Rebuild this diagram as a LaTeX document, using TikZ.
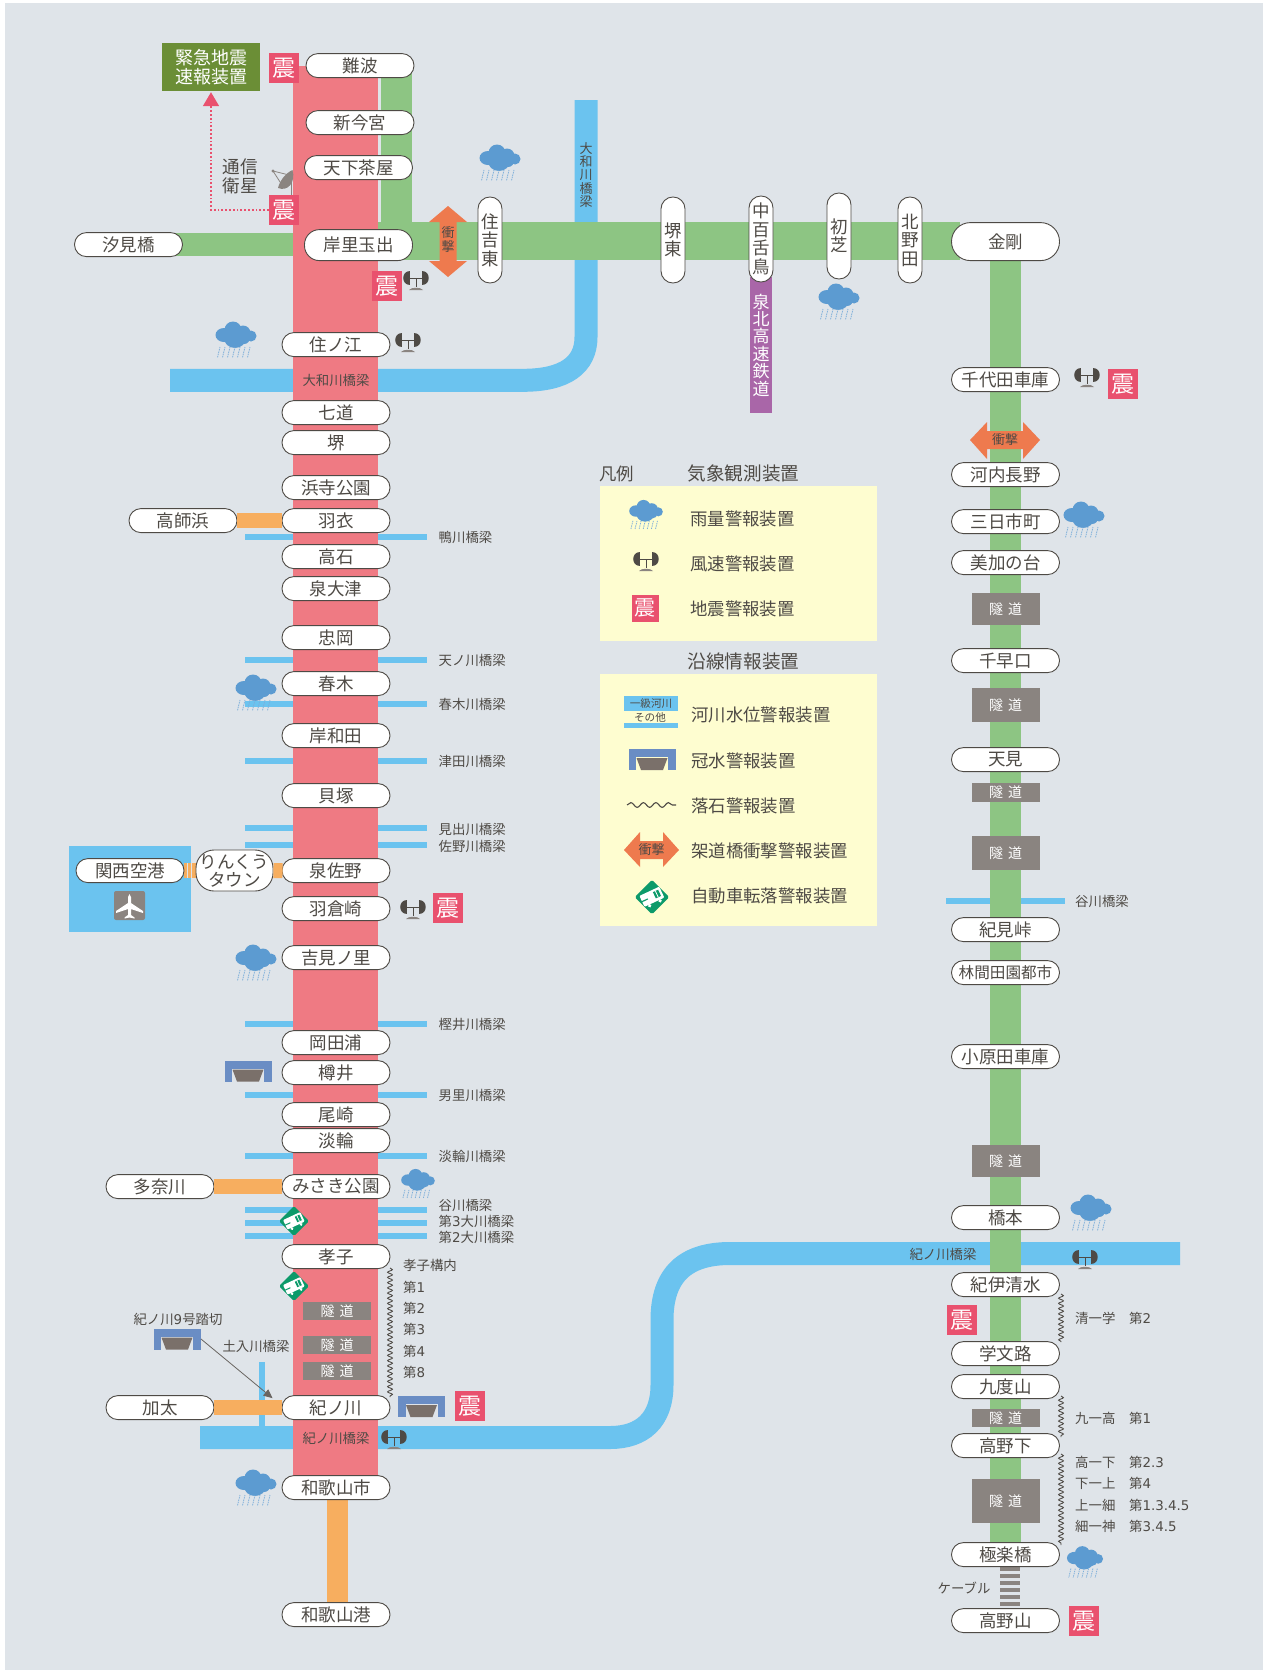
\documentclass[tikz,border=0pt]{standalone}
\usepackage{fontspec}
\setmainfont{Noto Sans CJK JP}
\newfontfamily\latn{DejaVu Sans}
\usetikzlibrary{arrows.meta,decorations.pathmorphing,shapes.geometric}
\definecolor{bgc}{HTML}{DFE4E9}
\definecolor{redl}{HTML}{EF7A83}
\definecolor{greenl}{HTML}{8DC583}
\definecolor{bluel}{HTML}{6BC3EF}
\definecolor{orangel}{HTML}{F7AE5F}
\definecolor{ink}{HTML}{4E4A45}
\definecolor{pinkc}{HTML}{E9516E}
\definecolor{cloudc}{HTML}{5C9BD1}
\definecolor{grayc}{HTML}{8A8480}
\definecolor{shockc}{HTML}{EE7A4E}
\definecolor{yell}{HTML}{FEFDD0}
\definecolor{floodc}{HTML}{6A8DC4}
\definecolor{floodin}{HTML}{7A706A}
\definecolor{fallc}{HTML}{0C9A6A}
\definecolor{purplel}{HTML}{A966A8}
\definecolor{emgc}{HTML}{6B8E36}
\newcommand{\fs}[1]{\fontsize{#1}{#1}\selectfont}
\newcommand{\nb}[1]{{\latn #1}}
\tikzset{
  x=1pt,y=-1pt,
  station/.style={draw=ink,fill=white,line width=0.9pt,rounded corners=11.9pt,minimum width=108pt,minimum height=24pt,inner sep=0pt,text=ink,font=\fs{17.5},yshift=-0.6pt},
  vstation/.style={draw=ink,fill=white,line width=0.9pt,rounded corners=11.9pt,minimum width=24pt,minimum height=86pt,inner sep=0pt,text=ink,align=center,font=\fontsize{17.5}{18.5}\selectfont},
  tunnelbox/.style={fill=grayc,minimum width=68pt,minimum height=18pt,inner sep=0pt,text=white,font=\fs{14}},
  smalllabel/.style={anchor=west,inner sep=0pt,text=ink,font=\fs{13.4},yshift=-0.8pt},
  leglabel/.style={anchor=west,inner sep=0pt,text=ink,font=\fs{17.4},yshift=-0.8pt},
  orangeline/.style={draw=orangel,line width=15pt},
  wavy/.style={draw=ink,line width=0.9pt,decorate,decoration={snake,segment length=5.2pt,amplitude=2.4pt}},
  rainicon/.pic={
    \fill[cloudc] (-12,0) circle[x radius=8.5,y radius=7];
    \fill[cloudc] (-3,-5) circle[radius=8.5];
    \fill[cloudc] (7,-2) circle[radius=7.5];
    \fill[cloudc] (15,1) circle[radius=5.5];
    \fill[cloudc] (-1,3) circle[x radius=11,y radius=10];
    \fill[cloudc] (8,3) circle[radius=6];
    \foreach \q in {-18,-13,-8,-3,2,7,12}
      \draw[cloudc!80!white,line width=0.8pt,dash pattern=on 1.4pt off 0.9pt] (\q+2,12) -- (\q-0.5,22.5);
  },
  windicon/.pic={
    \fill[ink] (-6,-9) .. controls (-15,-9) and (-15,5) .. (-6,5) -- cycle;
    \fill[ink] (6,-9) .. controls (15,-9) and (15,5) .. (6,5) -- cycle;
    \draw[ink,line width=1pt] (-6,-2) -- (6,-2);
    \draw[ink,line width=1pt] (0,-2) -- (0,7);
    \fill[grayc] (-7,10) .. controls (-5,7) and (5,7) .. (7,10) -- cycle;
  },
  shinicon/.pic={
    \node (-box) [fill=pinkc,minimum size=30pt,inner sep=0pt,text=white,font=\fs{23}] {震};
  },
  shinsmall/.pic={
    \node (-box) [fill=pinkc,minimum size=27pt,inner sep=0pt,text=white,font=\fs{21}] {震};
  },
  floodicon/.pic={
    \fill[floodc] (-23.5,-10.5) rectangle (23.5,-2.5);
    \fill[floodc] (-23.5,-2.5) rectangle (-16,10.5);
    \fill[floodc] (16,-2.5) rectangle (23.5,10.5);
    \fill[floodin] (-15.5,-1.5) -- (15.5,-1.5) -- (11,10.5) -- (-11,10.5) -- cycle;
  },
  fallicon/.pic={
    \fill[fallc,rounded corners=1.5pt] (-15,0) -- (0,-15) -- (15,0) -- (0,15) -- cycle;
    \begin{scope}[rotate=25]
      \fill[white,rounded corners=1pt] (-9.5,-5.5) rectangle (9.5,5);
      \fill[white] (-5,6) circle[radius=1.6];
      \fill[white] (5,6) circle[radius=1.6];
      \fill[fallc] (2.5,-3.5) rectangle (7.5,2.5);
      \fill[white] (4.5,-3.5) rectangle (5.2,2.5);
      \fill[fallc] (-9.8,-0.5) rectangle (-4,0.5);
    \end{scope}
  },
}
\begin{document}
\begin{tikzpicture}
\useasboundingbox (0,0) rectangle (1263,1670);
\fill[white] (0,0) rectangle (1263,1670);
\fill[bgc] (5,3) rectangle (1263,1670);

% rivers
\draw[bluel,line width=23pt] (170,380.3) -- (523,380.3) .. controls (565,380.3) and (586,365) .. (586,337) -- (586,100);
\draw[bluel,line width=23pt] (200,1437.5) -- (610,1437.5) .. controls (642,1437.5) and (662,1420) .. (662,1385) -- (662,1320) .. controls (662,1275) and (685,1253.5) .. (730,1253.5) -- (1180,1253.5);
\fill[bluel] (259,1362) rectangle (265,1426);
% bridges
\foreach \q in {537,660,704,761,828,845,1024,1095,1156,1210,1223,1236}{
  \fill[bluel] (245,\q-3) rectangle (427,\q+3);
}
\fill[bluel] (946,898) rectangle (1065,904);
% airport
\fill[bluel] (69,846) rectangle (191,932);

% main lines
\fill[redl] (293,66) rectangle (378,1490);
\fill[greenl] (381,66) rectangle (412,230);
\fill[greenl] (378,222) rectangle (960,260);
\fill[greenl] (170,233) rectangle (293,256);
\fill[greenl] (990,240) rectangle (1021,1554);
\fill[purplel] (750,277) rectangle (772,413);
\fill[orangel] (327,1487) rectangle (348,1614);
\fill[orangel] (184,863) rectangle (196,878);
\foreach \q in {187,191}{\fill[bgc] (\q,863) rectangle (\q+1,878);}

% right-hand tunnels
\node (t1) [tunnelbox,minimum height=32pt] at (1005.5,609) {隧\hspace{5pt}道};
\node (t2) [tunnelbox,minimum height=34pt] at (1005.5,705) {隧\hspace{5pt}道};
\node (t3) [tunnelbox,minimum height=19pt] at (1005.5,792) {隧\hspace{5pt}道};
\node (t4) [tunnelbox,minimum height=34pt] at (1005.5,853) {隧\hspace{5pt}道};
\node (t5) [tunnelbox,minimum height=32pt] at (1005.5,1161) {隧\hspace{5pt}道};
\node (t6) [tunnelbox] at (1005.5,1418) {隧\hspace{5pt}道};
\node (t7) [tunnelbox,minimum height=44pt] at (1005.5,1501) {隧\hspace{5pt}道};
% left tunnels
\node (t8) [tunnelbox] at (337,1311) {隧\hspace{5pt}道};
\node (t9) [tunnelbox] at (337,1345) {隧\hspace{5pt}道};
\node (t10) [tunnelbox] at (337,1371) {隧\hspace{5pt}道};

% cable
\foreach \q in {1567,1574,1581,1588,1595,1602}{\fill[grayc] (1000,\q) rectangle (1020,\q+3.5);}

% stations: Nankai main
\node (nanba) [station] at (360,65) {難波};
\node (imamiya) [station] at (360,122) {新今宮};
\node (tenga) [station] at (358.5,167) {天下茶屋};
\node (kishi) [station,minimum height=31pt,rounded corners=15pt] at (358.5,244.5) {岸里玉出};
\node (shiomi) [station] at (128.5,244) {汐見橋};
\node (suminoe) [station] at (336,344) {住ノ江};
\node (shichido) [station] at (336,412) {七道};
\node (sakai) [station] at (336,442) {堺};
\node (hamadera) [station] at (336,487) {浜寺公園};
\node (hagoromo) [station] at (336,520) {羽衣};
\node (takaishi) [station] at (336,556) {高石};
\node (izumiotsu) [station] at (336,588) {泉大津};
\node (tadaoka) [station] at (336,637) {忠岡};
\node (haruki) [station] at (336,683) {春木};
\node (kishiwada) [station] at (336,735) {岸和田};
\node (kaizuka) [station] at (336,795) {貝塚};
\node (izumisano) [station] at (336,870) {泉佐野};
\node (hagurazaki) [station] at (336,908) {羽倉崎};
\node (yoshimi) [station] at (336,957) {吉見ノ里};
\node (okadaura) [station] at (336,1042) {岡田浦};
\node (tarui) [station] at (336,1072) {樽井};
\node (ozaki) [station] at (336,1114) {尾崎};
\node (tannowa) [station] at (336,1140) {淡輪};
\node (misaki) [station] at (336,1186) {みさき公園};
\node (kyoshi) [station] at (336,1256) {孝子};
\node (kinokawa) [station] at (336,1407) {紀ノ川};
\node (wakayamashi) [station] at (336,1487) {和歌山市};
\node (wakayamako) [station] at (336,1614) {和歌山港};
\node (takashinohama) [station] at (183,520) {高師浜};
\node (tanagawa) [station] at (160,1186) {多奈川};
\node (kada) [station] at (160,1407) {加太};
\node (kanku) [station] at (130,870) {関西空港};
\node (rinku) [draw=ink,fill=white,line width=0.9pt,rounded corners=18pt,minimum width=77pt,minimum height=41pt,inner sep=0pt,text=ink,align=center,font=\fontsize{17.5}{18}\selectfont] at (234.5,870.5) {りんくう\\タウン};
% branch lines
\draw[orangeline,shorten >=-1pt] (rinku.east) -- (izumisano.west);
\draw[orangeline] (tanagawa.east) -- (misaki.west);
\draw[orangeline] (kada.east) -- (kinokawa.west);
\draw[orangeline] (takashinohama.east) -- (hagoromo.west);

% Koya line stations
\node (sumiyoshi) [vstation] at (490,240) {住\\吉\\東};
\node (sakaihigashi) [vstation] at (673,240) {堺\\東};
\node (nakamozu) [vstation] at (761,239) {中\\百\\舌\\鳥};
\node (hatsushiba) [vstation] at (839,236) {初\\芝};
\node (kitanoda) [vstation] at (910,240) {北\\野\\田};
\node (kongo) [station,minimum height=38pt,rounded corners=18.9pt] at (1005.5,241) {金剛};
\node (chiyoda) [station] at (1005.5,379) {千代田車庫};
\node (kawachi) [station] at (1005.5,474) {河内長野};
\node (mikkaichi) [station] at (1005.5,521) {三日市町};
\node (mikanodai) [station] at (1005.5,562) {美加の台};
\node (chihaya) [station] at (1005.5,660) {千早口};
\node (amami) [station] at (1005.5,759) {天見};
\node (kimitoge) [station] at (1005.5,929) {紀見峠};
\node (rinkan) [station,font=\fs{15.6}] at (1005.5,972) {林間田園都市};
\node (kohara) [station] at (1005.5,1056) {小原田車庫};
\node (hashimoto) [station] at (1005.5,1217) {橋本};
\node (kiishimizu) [station] at (1005.5,1284) {紀伊清水};
\node (kamuro) [station] at (1005.5,1353) {学文路};
\node (kudoyama) [station] at (1005.5,1386) {九度山};
\node (koyashita) [station] at (1005.5,1445) {高野下};
\node (gokuraku) [station] at (1005.5,1554) {極楽橋};
\node (koyasan) [station] at (1005.5,1620) {高野山};

% text on rivers and lines
\node (lb1) [text=ink,font=\fs{13.4},inner sep=0pt,yshift=-0.8pt] at (336,380) {大和川橋梁};
\node (lb2) [text=ink,font=\fs{13.4},inner sep=0pt,yshift=-0.8pt] at (336,1438) {紀ノ川橋梁};
\node (lb3) [text=ink,font=\fs{13.4},inner sep=0pt,yshift=-0.8pt] at (943,1254) {紀ノ川橋梁};
\node (lb4) [text=ink,font=\fontsize{13}{13.2}\selectfont,inner sep=0pt,align=center] at (586,175) {大\\和\\川\\橋\\梁};
\node (lb5) [text=white,font=\fontsize{17}{17.4}\selectfont,inner sep=0pt,align=center] at (761,345) {泉\\北\\高\\速\\鉄\\道};

% bridge labels
\foreach \q/\r in {537/鴨川橋梁,660/天ノ川橋梁,704/春木川橋梁,761/津田川橋梁,829/見出川橋梁,846/佐野川橋梁,1024/樫井川橋梁,1095/男里川橋梁,1156/淡輪川橋梁,1205/谷川橋梁,1221/第\nb{3}大川橋梁,1237/第\nb{2}大川橋梁}{
  \node [smalllabel] at (438.5,\q) {\r};
}
\foreach \q/\r in {1265/孝子構内,1287/第\nb{1},1308/第\nb{2},1329/第\nb{3},1351/第\nb{4},1372/第\nb{8}}{
  \node [smalllabel] at (403,\q) {\r};
}
\node (lb6) [smalllabel] at (1075,901) {谷川橋梁};
\node (lb7) [smalllabel] at (1075,1318) {清一学};
\node (lb8) [smalllabel] at (1129,1318) {第\nb{2}};
\node (lb9) [smalllabel] at (1075,1418) {九一高};
\node (lb10) [smalllabel] at (1129,1418) {第\nb{1}};
\node (lb11) [smalllabel] at (1075,1462) {高一下};
\node (lb12) [smalllabel] at (1129,1462) {第\nb{2.3}};
\node (lb13) [smalllabel] at (1075,1483) {下一上};
\node (lb14) [smalllabel] at (1129,1483) {第\nb{4}};
\node (lb15) [smalllabel] at (1075,1505) {上一細};
\node (lb16) [smalllabel] at (1129,1505) {第\nb{1.3.4.5}};
\node (lb17) [smalllabel] at (1075,1526) {細一神};
\node (lb18) [smalllabel] at (1129,1526) {第\nb{3.4.5}};
\node (lb19) [smalllabel,anchor=center] at (964,1587) {ケーブル};
\node (lb20) [smalllabel,anchor=center] at (178,1319) {紀ノ川\nb{9}号踏切};
\node (lb21) [smalllabel,anchor=center] at (256,1346) {土入川橋梁};

% wavy rockfall lines
\draw[wavy] (390,1268) -- (390,1397);
\draw[wavy] (1061,1294) -- (1061,1342);
\draw[wavy] (1061,1396) -- (1061,1437);
\draw[wavy] (1061,1454) -- (1061,1545);

% emergency box
\node (emgbox) [fill=emgc,minimum width=98pt,minimum height=48pt,inner sep=0pt,text=white,align=center,font=\fontsize{18}{19}\selectfont] at (211,67) {緊急地震\\速報装置};
\pic (s1) at (284,68) {shinicon};
\pic (s2) at (284,210) {shinicon};
\pic (s3) at (387,286) {shinicon};
\pic (s4) at (448,908) {shinicon};
\pic (s5) at (470,1406) {shinicon};
\pic (s6) at (1123,384) {shinicon};
\pic (s7) at (962,1320) {shinicon};
\pic (s8) at (1084,1621) {shinicon};
\draw[pinkc,line width=1.6pt,dash pattern=on 1.8pt off 2pt,-{Triangle[width=16pt,length=14pt,sep=1pt]}] (s2-box.west) -| (emgbox.south);
\node (tsushin) [text=ink,inner sep=0pt,align=center,font=\fontsize{17.6}{19}\selectfont] at (240,176) {通信\\衛星};
% satellite dish
\fill[grayc] (292.5,170) .. controls (296,182) and (288,192) .. (278,188) .. controls (280,180) and (286,173) .. cycle;
\draw[grayc,line width=0.8pt] (273,171) -- (289,175);
\draw[grayc,line width=0.8pt] (273,171) -- (282,185);
\fill[grayc] (273,171) circle[radius=1.7];
\draw[grayc,line width=1pt] (291,182) -- (291,195);

% weather icons
\foreach \q/\r in {500/158,236/335,839/297,1084/515,256/688,256/958,256/1483,1091/1208}{
  \pic at (\q,\r) {rainicon};
}
\pic[scale=0.82] at (418,1180) {rainicon};
\pic[scale=0.88] at (1085,1558) {rainicon};
\foreach \q/\r in {416/280,408/342,413/909,394/1439,1085/1259,1087/377}{
  \pic at (\q,\r) {windicon};
}
\foreach \q/\r in {421.5/1406.5,177/1339,248/1071}{
  \pic at (\q,\r) {floodicon};
}
\pic at (294,1221) {fallicon};
\pic at (294,1286) {fallicon};

% flood arrow
\coordinate (floodpoint) at (201,1339);
\draw[ink!85!white,line width=0.8pt,-{Triangle[width=8pt,length=9pt]}] (floodpoint) -- ([xshift=-9pt,yshift=-3pt]kinokawa.north west);

% shock arrows
\fill[shockc] (448,206) -- (467,222) -- (456.5,222) -- (456.5,261) -- (467,261) -- (448,277) -- (429,261) -- (439.5,261) -- (439.5,222) -- (429,222) -- cycle;
\node (shockv) [text=ink,font=\fontsize{13}{14}\selectfont,inner sep=0pt,align=center] at (448,240) {衝\\撃};
\fill[shockc] (970,440) -- (987,422) -- (987,431) -- (1023,431) -- (1023,422) -- (1040,440) -- (1023,459) -- (1023,449) -- (987,449) -- (987,459) -- cycle;
\node (shockh) [text=ink,font=\fs{13},inner sep=0pt] at (1005,440) {衝撃};

% airport plane
\fill[grayc,rounded corners=2pt] (114,891) rectangle (145,920);
\fill[white] (129.5,894) -- (131,897) -- (131,903) -- (143,911) -- (143,913) -- (131,909) -- (131,915) -- (134.5,917.5) -- (134.5,918.5) -- (129.5,917.5) -- (124.5,918.5) -- (124.5,917.5) -- (128,915) -- (128,909) -- (116,913) -- (116,911) -- (128,903) -- (128,897) -- cycle;

% legend
\node (l1) [leglabel] at (599,473) {凡例};
\node (l2) [leglabel,font=\fs{18.6}] at (687.5,473) {気象観測装置};
\node (l3) [leglabel,font=\fs{18.6}] at (687.5,661) {沿線情報装置};
\fill[yell] (600,486) rectangle (877,641);
\fill[yell] (600,674) rectangle (877,926);
\pic[scale=0.82] at (646,511) {rainicon};
\pic at (646,561) {windicon};
\pic (s9) at (645,608) {shinsmall};
\node (l4) [leglabel] at (690,518) {雨量警報装置};
\node (l5) [leglabel] at (690,563) {風速警報装置};
\node (l6) [leglabel] at (690,608) {地震警報装置};
\node (l7) [leglabel] at (691,714) {河川水位警報装置};
\node (l8) [leglabel] at (691,760) {冠水警報装置};
\node (l9) [leglabel] at (691,805) {落石警報装置};
\node (l10) [leglabel] at (691,850) {架道橋衝撃警報装置};
\node (l11) [leglabel] at (691,895) {自動車転落警報装置};
\fill[bluel] (624,696) rectangle (678,711);
\fill[bluel] (624,723) rectangle (678,728);
\node (l12) [text=ink,font=\fs{10.6},inner sep=0pt] at (651,703.5) {一級河川};
\node (l13) [text=ink,font=\fs{10.6},inner sep=0pt] at (650,717) {その他};
\pic at (652,759.5) {floodicon};
\draw[ink,line width=1.1pt,decorate,decoration={snake,segment length=12.5pt,amplitude=2.4pt}] (627,805) -- (676,805);
\fill[shockc] (624,850) -- (640,832) -- (640,841) -- (663,841) -- (663,832) -- (679,850) -- (663,867) -- (663,859) -- (640,859) -- (640,867) -- cycle;
\node (l14) [text=ink,font=\fs{13},inner sep=0pt] at (651.5,850) {衝撃};
\pic[scale=1.15] at (652,897) {fallicon};
\end{tikzpicture}
\end{document}
